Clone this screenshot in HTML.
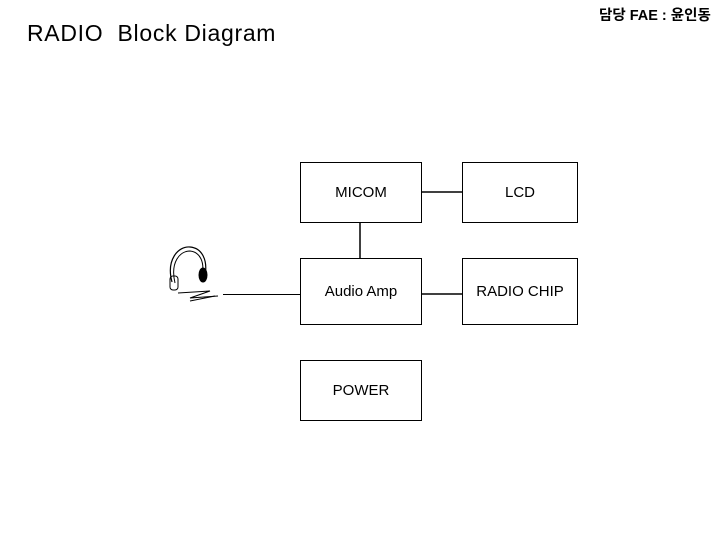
<!DOCTYPE html>
<html><head><meta charset="utf-8"><style>
html,body{margin:0;padding:0;background:#fff;}
body{width:720px;height:540px;position:relative;overflow:hidden;font-family:"Liberation Sans","Noto Sans CJK KR",sans-serif;color:#000;}
.t{position:absolute;white-space:pre;}
.b{position:absolute;border:1px solid #000;box-sizing:border-box;display:flex;align-items:center;justify-content:center;font-size:15px;}
</style></head><body>
<div class="t" style="left:27px;top:20px;font-size:23px;letter-spacing:0.7px;">RADIO  Block Diagram</div>
<div class="t" style="left:599px;top:4px;font-size:14.5px;font-weight:bold;">담당 FAE : 윤인동</div>
<div class="b" style="left:300px;top:162px;width:122px;height:61px;">MICOM</div>
<div class="b" style="left:462px;top:162px;width:116px;height:61px;">LCD</div>
<div class="b" style="left:300px;top:258px;width:122px;height:67px;">Audio Amp</div>
<div class="b" style="left:462px;top:258px;width:116px;height:67px;">RADIO CHIP</div>
<div class="b" style="left:300px;top:360px;width:122px;height:61px;">POWER</div>
<svg width="720" height="540" style="position:absolute;left:0;top:0">
<g stroke="#000" fill="none">
<line x1="421" y1="192" x2="462" y2="192" stroke-width="1.5"/>
<line x1="360" y1="222" x2="360" y2="258" stroke-width="1.5"/>
<line x1="421" y1="294" x2="462" y2="294" stroke-width="1.5"/>
<line x1="223" y1="294.5" x2="300" y2="294.5" stroke-width="1"/>
<path d="M172 282 C166 260 178 246 190 247 C202 248 208 260 205 276" stroke-width="1.2"/>
<path d="M175 283 C170 262 180 251 190 251 C200 252 205 262 202 276" stroke-width="1"/>
<rect x="170" y="276" width="8" height="14" rx="3" stroke-width="1"/>
<ellipse cx="203" cy="275" rx="4" ry="7" fill="#000"/>
<path d="M178 293 L210 291 L190 298 L218 296" stroke-width="1"/>
<path d="M190 301 L215 296" stroke-width="1"/>
</g>
</svg>
</body></html>
